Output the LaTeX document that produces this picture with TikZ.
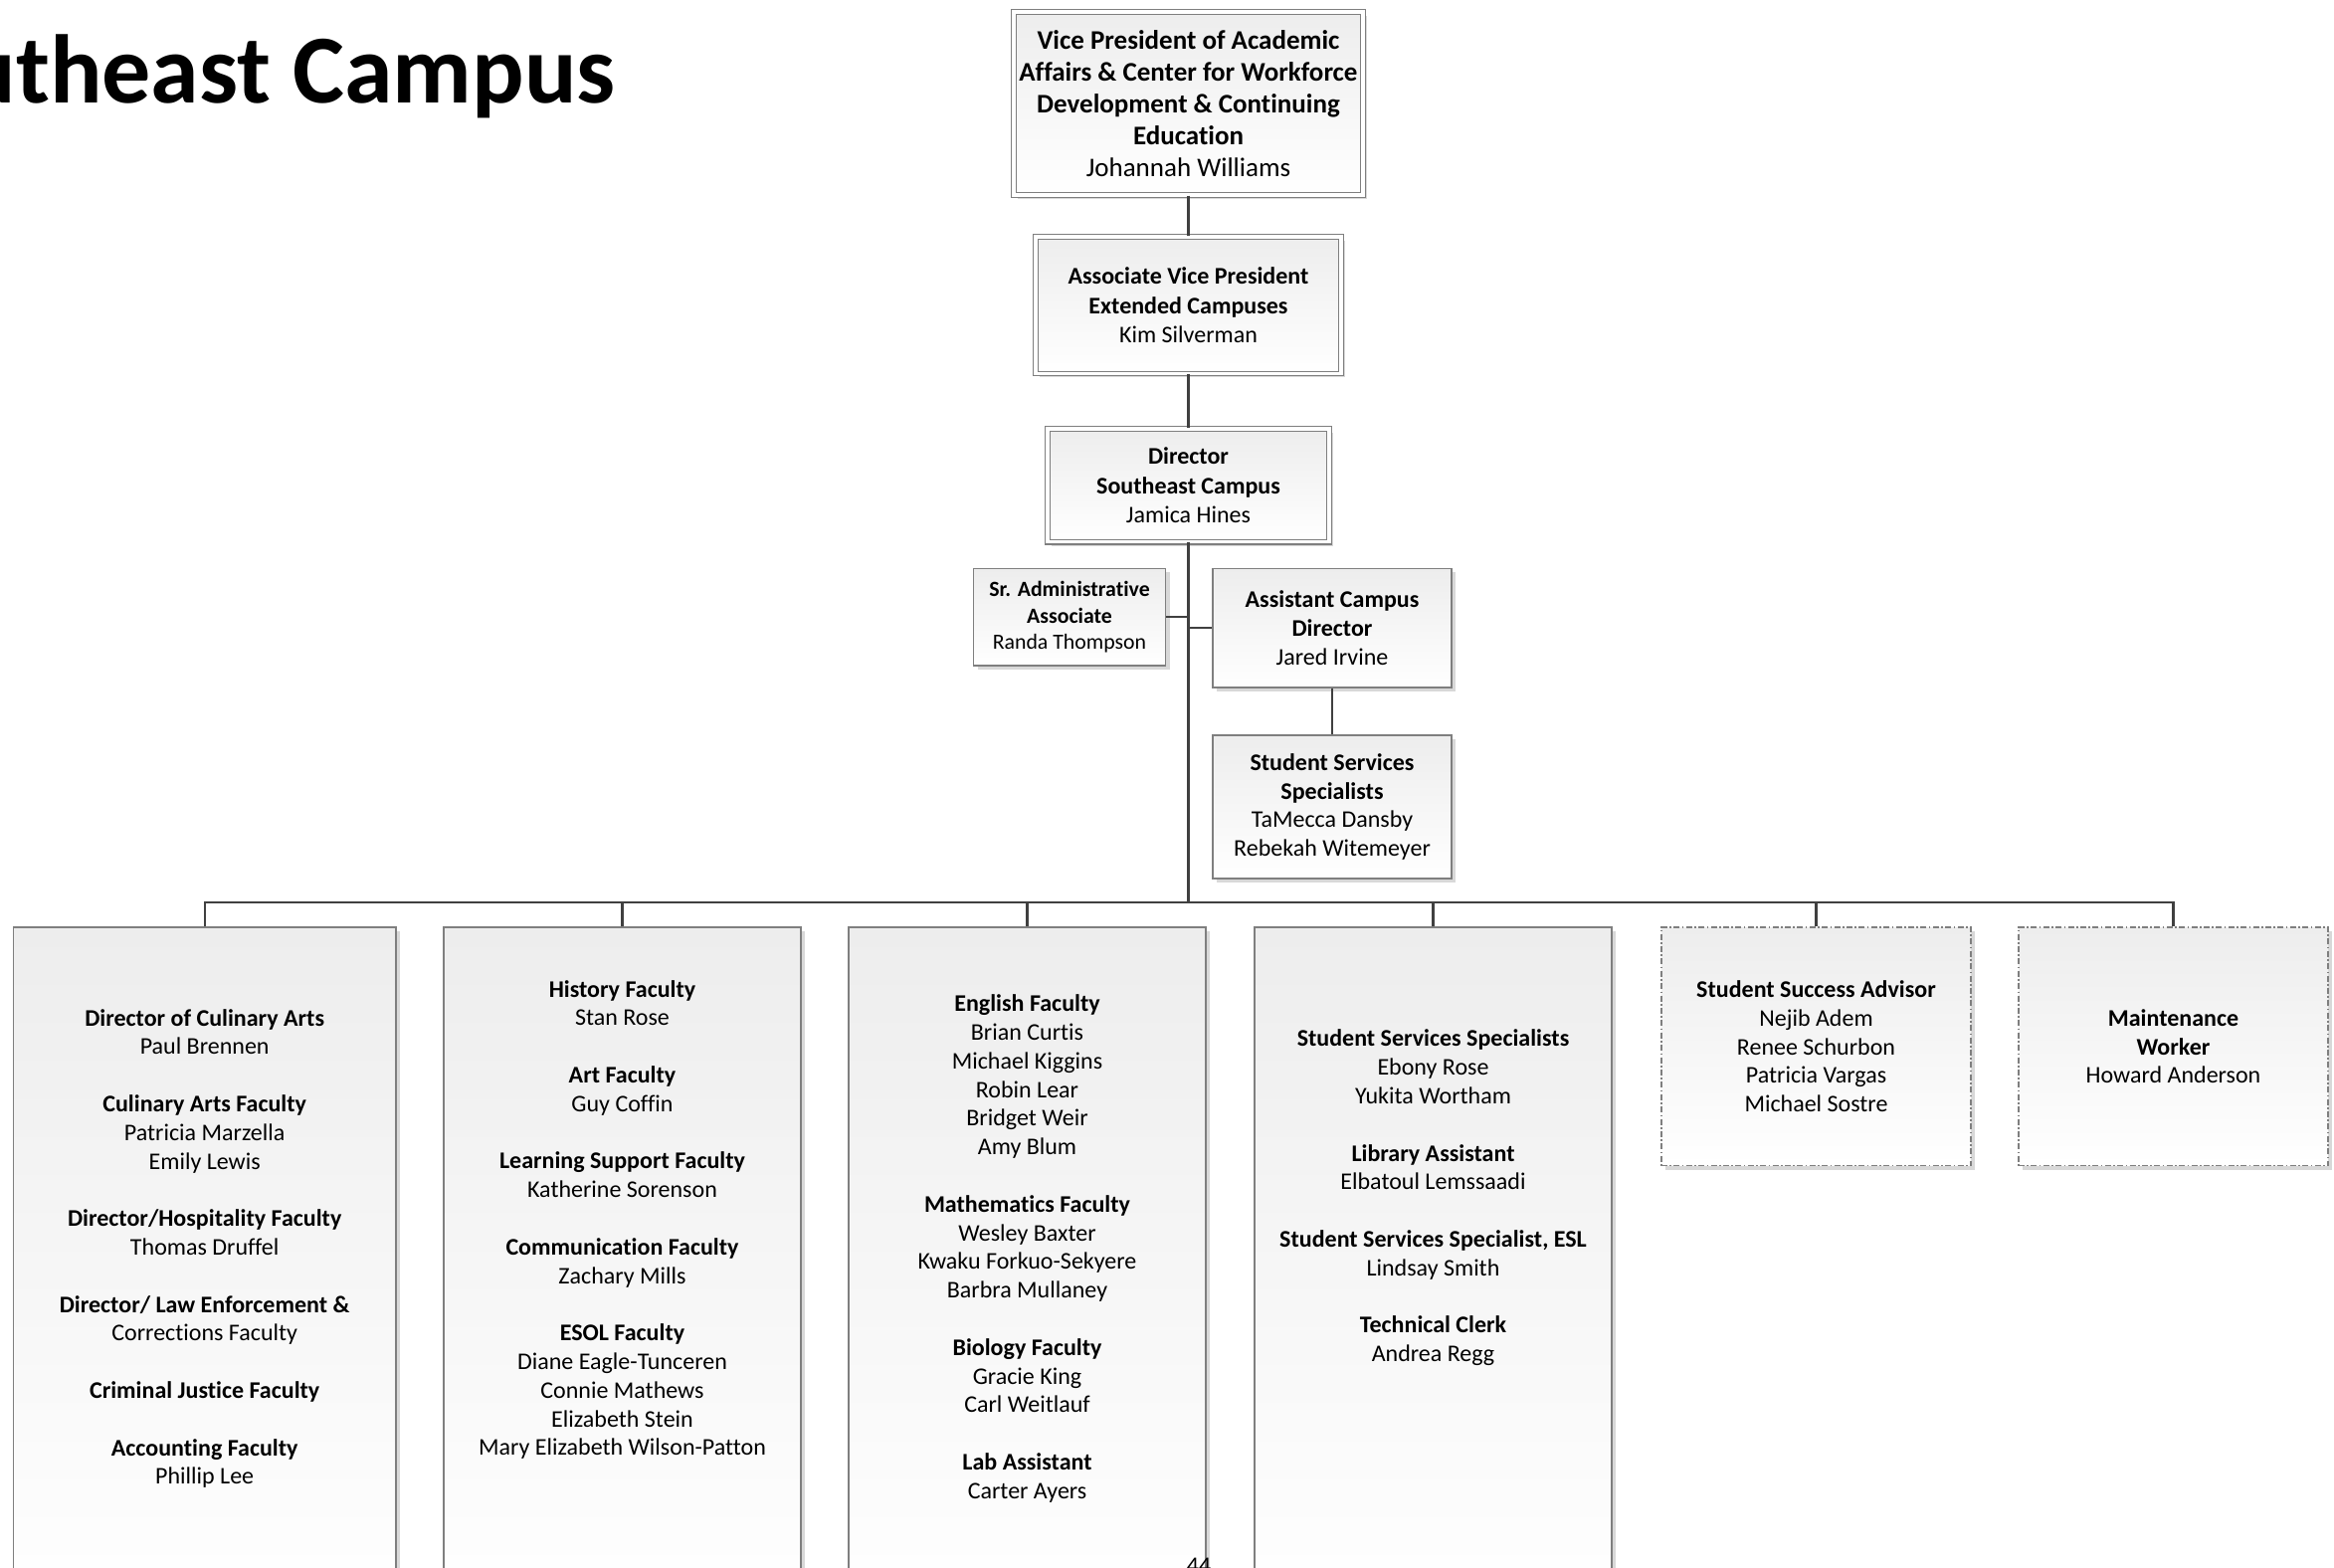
\documentclass[tikz,border=0pt]{standalone}
\usepackage{fontspec}
\setmainfont{Carlito}[Ligatures=NoCommon]
\usetikzlibrary{shadows}
\definecolor{conncol}{HTML}{404040}
\definecolor{bordcol}{HTML}{7F7F7F}
\definecolor{boxtop}{HTML}{EDEDED}
\definecolor{shadcol}{HTML}{D8D8D8}
\begin{document}
\begin{tikzpicture}[x=0.5pt,y=-0.5pt,
  box/.style={draw=bordcol, line width=0.6pt, top color=boxtop, bottom color=white,
    align=center, inner sep=0pt,
    drop shadow={shadow xshift=2pt, shadow yshift=-2pt, fill=shadcol, opacity=1}},
  dbl/.style={double=white, double distance=1.8pt, line width=0.55pt},
  dashbox/.style={dash pattern=on 3pt off 1.2pt on 0.8pt off 1.2pt},
  conn/.style={draw=conncol, line width=1.2pt},
  trunk/.style={draw=conncol, line width=1.6pt},
  txt/.style={align=center, inner sep=0pt},
  fbig/.style={font=\fontsize{13.5}{15.95}\selectfont},
  fmid/.style={font=\fontsize{12}{14.6}\selectfont},
  fsmall/.style={font=\fontsize{10.9}{13.1}\selectfont},
  fnorm/.style={font=\fontsize{12}{14.4}\selectfont}
]
\useasboundingbox (0,0) rectangle (2346,1575);

% title
\node[anchor=base east, inner sep=0pt, font=\fontsize{49}{58}\selectfont\bfseries] (title) at (619,103) {Southeast Campus};

% upper chain
\node[box, dbl, fbig, minimum width=175.5pt, minimum height=92pt] (vp) at (1194.5,104)
 {\textbf{Vice President of Academic}\\\textbf{Affairs \& Center for Workforce}\\\textbf{Development \& Continuing}\\\textbf{Education}\\Johannah Williams};
\node[box, dbl, fmid, minimum width=153.5pt, minimum height=68.75pt] (avp) at (1194.5,306.7)
 {\textbf{Associate Vice President}\\\textbf{Extended Campuses}\\Kim Silverman};
\node[box, dbl, fmid, minimum width=141.5pt, minimum height=56.8pt] (dir) at (1194.5,487.8)
 {\textbf{Director}\\\textbf{Southeast Campus}\\Jamica Hines};

\node[box, fsmall, minimum width=96.5pt, minimum height=48.75pt] (sra) at (1075,620.2)
 {\textbf{Sr. Administrative}\\\textbf{Associate}\\Randa Thompson};
\node[box, fmid, minimum width=120pt, minimum height=59.75pt] (acd) at (1339,631.2)
 {\textbf{Assistant Campus}\\\textbf{Director}\\Jared Irvine};
\node[box, fnorm, minimum width=120pt, minimum height=72pt] (sss) at (1339,811)
 {\textbf{Student Services}\\\textbf{Specialists}\\TaMecca Dansby\\Rebekah Witemeyer};

% bottom boxes
\node[box, minimum width=192.25pt, minimum height=344pt] (b1) at (205.7,1276) {};
\node[box, minimum width=179.5pt, minimum height=344pt] (b2) at (625.5,1276) {};
\node[box, minimum width=179.5pt, minimum height=344pt] (b3) at (1032.5,1276) {};
\node[box, minimum width=179.5pt, minimum height=344pt] (b4) at (1440.5,1276) {};
\node[box, dashbox, fnorm, minimum width=155.5pt, minimum height=119.75pt] (b5) at (1825.5,1051.75)
 {\textbf{Student Success Advisor}\\Nejib Adem\\Renee Schurbon\\Patricia Vargas\\Michael Sostre};
\node[box, dashbox, fnorm, minimum width=155.5pt, minimum height=119.75pt] (b6) at (2184.5,1051.75)
 {\textbf{Maintenance}\\\textbf{Worker}\\Howard Anderson};

\node[txt, fnorm] (t1) at (205.7,1255)
 {\textbf{Director of Culinary Arts}\\Paul Brennen\\~\\
  \textbf{Culinary Arts Faculty}\\Patricia Marzella\\Emily Lewis\\~\\
  \textbf{Director/Hospitality Faculty}\\Thomas Druffel\\~\\
  \textbf{Director/ Law Enforcement \&}\\Corrections Faculty\\~\\
  \textbf{Criminal Justice Faculty}\\~\\
  \textbf{Accounting Faculty}\\Phillip Lee};
\node[txt, fnorm] (t2) at (625.5,1226)
 {\textbf{History Faculty}\\Stan Rose\\~\\
  \textbf{Art Faculty}\\Guy Coffin\\~\\
  \textbf{Learning Support Faculty}\\Katherine Sorenson\\~\\
  \textbf{Communication Faculty}\\Zachary Mills\\~\\
  \textbf{ESOL Faculty}\\Diane Eagle-Tunceren\\Connie Mathews\\Elizabeth Stein\\Mary Elizabeth Wilson-Patton};
\node[txt, fnorm] (t3) at (1032.5,1255)
 {\textbf{English Faculty}\\Brian Curtis\\Michael Kiggins\\Robin Lear\\Bridget Weir\\Amy Blum\\~\\
  \textbf{Mathematics Faculty}\\Wesley Baxter\\Kwaku Forkuo-Sekyere\\Barbra Mullaney\\~\\
  \textbf{Biology Faculty}\\Gracie King\\Carl Weitlauf\\~\\
  \textbf{Lab Assistant}\\Carter Ayers};
\node[txt, fnorm] (t4) at (1440.5,1204)
 {\textbf{Student Services Specialists}\\Ebony Rose\\Yukita Wortham\\~\\
  \textbf{Library Assistant}\\Elbatoul Lemssaadi\\~\\
  \textbf{Student Services Specialist, ESL}\\Lindsay Smith\\~\\
  \textbf{Technical Clerk}\\Andrea Regg};

% page number
\node[anchor=north, inner sep=0pt, font=\fontsize{12}{14}\selectfont] (pg) at (1205,1566) {44};

% connectors
\coordinate (bus) at (1194.5,906.7);
\draw[conn] (vp.south) -- (avp.north);
\draw[conn] (avp.south) -- (dir.north);
\draw[trunk] (dir.south) -- (bus);
\draw[conn] (sra.east) -- (sra.east -| dir.south);
\draw[conn] (acd.west -| dir.south) -- (acd.west);
\draw[conn] (acd.south) -- (sss.north);
\draw[conn] (bus) -| (b1.north);
\draw[conn] (bus) -| (b2.north);
\draw[conn] (bus) -| (b3.north);
\draw[conn] (bus) -| (b4.north);
\draw[conn] (bus) -| (b5.north);
\draw[conn] (bus) -| (b6.north);
\end{tikzpicture}
\end{document}
